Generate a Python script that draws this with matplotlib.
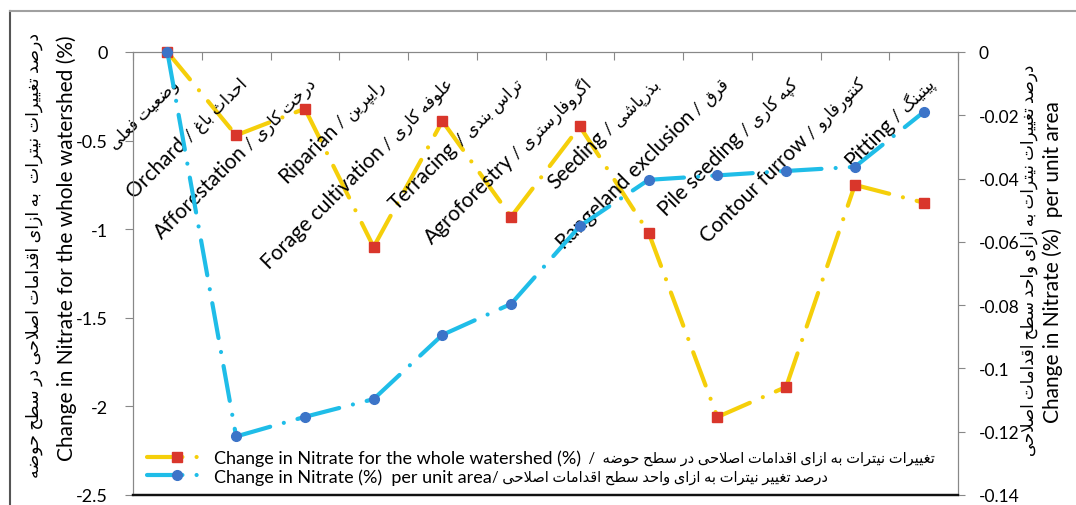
import matplotlib
matplotlib.use('Agg')
import matplotlib.pyplot as plt
import matplotlib.transforms as mtransforms
from matplotlib.lines import Line2D
from matplotlib.font_manager import FontProperties
import numpy as np

plt.rcParams['font.family'] = ['Lato', 'DejaVu Sans']
plt.rcParams['axes.unicode_minus'] = False

# ---- data ----
cat_en = ['', 'Orchard', 'Afforestation', 'Riparian', 'Forage cultivation', 'Terracing',
          'Agroforestry', 'Seeding', 'Rangeland exclusion', 'Pile seeding', 'Contour furrow', 'Pitting']
cat_fa = ['وضعیت فعلی', 'احداث باغ', 'درخت کاری', 'رایپرین', 'علوفه کاری', 'تراس بندی',
          'اگروفارستری', 'بذرپاشی', 'قرق', 'کپه کاری', 'کنتورفارو', 'پیتینگ']
whole_watershed = [0, -0.47, -0.32, -1.10, -0.39, -0.93, -0.42, -1.02, -2.06, -1.89, -0.75, -0.85]
per_unit_area = [0, -0.1215, -0.1153, -0.1097, -0.0894, -0.0796, -0.0550, -0.0404, -0.0390,
                 -0.0376, -0.0363, -0.0190]

left_ticks = [0, -0.5, -1, -1.5, -2, -2.5]
right_ticks = [0, -0.02, -0.04, -0.06, -0.08, -0.1, -0.12, -0.14]

# ---- minimal Persian shaping (presentation forms + visual order) ----
FORMS = {
    'ا': (0xFE8D, 0xFE8E, None, None), 'د': (0xFEA9, 0xFEAA, None, None),
    'ذ': (0xFEAB, 0xFEAC, None, None), 'ر': (0xFEAD, 0xFEAE, None, None),
    'ز': (0xFEAF, 0xFEB0, None, None), 'و': (0xFEED, 0xFEEE, None, None),
    'ژ': (0xFB8A, 0xFB8B, None, None),
    'ب': (0xFE8F, 0xFE90, 0xFE91, 0xFE92), 'ت': (0xFE95, 0xFE96, 0xFE97, 0xFE98),
    'ث': (0xFE99, 0xFE9A, 0xFE9B, 0xFE9C), 'ج': (0xFE9D, 0xFE9E, 0xFE9F, 0xFEA0),
    'ح': (0xFEA1, 0xFEA2, 0xFEA3, 0xFEA4), 'خ': (0xFEA5, 0xFEA6, 0xFEA7, 0xFEA8),
    'س': (0xFEB1, 0xFEB2, 0xFEB3, 0xFEB4), 'ش': (0xFEB5, 0xFEB6, 0xFEB7, 0xFEB8),
    'ص': (0xFEB9, 0xFEBA, 0xFEBB, 0xFEBC), 'ض': (0xFEBD, 0xFEBE, 0xFEBF, 0xFEC0),
    'ط': (0xFEC1, 0xFEC2, 0xFEC3, 0xFEC4), 'ع': (0xFEC9, 0xFECA, 0xFECB, 0xFECC),
    'غ': (0xFECD, 0xFECE, 0xFECF, 0xFED0), 'ف': (0xFED1, 0xFED2, 0xFED3, 0xFED4),
    'ق': (0xFED5, 0xFED6, 0xFED7, 0xFED8), 'ل': (0xFEDD, 0xFEDE, 0xFEDF, 0xFEE0),
    'م': (0xFEE1, 0xFEE2, 0xFEE3, 0xFEE4), 'ن': (0xFEE5, 0xFEE6, 0xFEE7, 0xFEE8),
    'ه': (0xFEE9, 0xFEEA, 0xFEEB, 0xFEEC),
    'پ': (0xFB56, 0xFB57, 0xFB58, 0xFB59), 'ک': (0xFB8E, 0xFB8F, 0xFB90, 0xFB91),
    'گ': (0xFB92, 0xFB93, 0xFB94, 0xFB95), 'ی': (0xFBFC, 0xFBFD, 0xFBFE, 0xFBFF),
}


def fa(text):
    out = []
    i = 0
    while i < len(text):
        ch = text[i]
        f = FORMS.get(ch)
        if f is None:
            out.append(ch)
            i += 1
            continue
        prev = text[i - 1] if i > 0 else ''
        nxt = text[i + 1] if i + 1 < len(text) else ''
        p = prev in FORMS and FORMS[prev][2] is not None
        if ch == 'ل' and nxt == 'ا':
            out.append(chr(0xFEFC if p else 0xFEFB))
            i += 2
            continue
        q = f[2] is not None and nxt in FORMS
        out.append(chr(f[{(0, 0): 0, (1, 0): 1, (0, 1): 2, (1, 1): 3}[(p, q)]]))
        i += 1
    return ''.join(reversed(out))


YELLOW = '#f5cf0a'
RED = '#d9362b'
CYAN = '#1fbde8'
BLUE = '#3c74c8'
GREY = '#888888'
dash = (0, (8.5, 3.4, 0.01, 3.4))

fig = plt.figure(figsize=(10.76, 5.06), dpi=100)
ax = fig.add_axes([133 / 1076, 10 / 506, 825 / 1076, 443 / 506])
ax2 = ax.twinx()

x = np.arange(len(cat_fa)) + 0.5

# segments drawn one by one so the dash pattern restarts at every point
for i in range(len(x) - 1):
    ax.plot(x[i:i + 2], whole_watershed[i:i + 2], color=YELLOW, lw=3, ls=dash,
            dash_capstyle='round', zorder=2)
    ax2.plot(x[i:i + 2], per_unit_area[i:i + 2], color=CYAN, lw=3, ls=dash,
             dash_capstyle='round', zorder=2)
ax.plot(x, whole_watershed, ls='none', marker='s', ms=6.5, color=RED, zorder=3, clip_on=False)
ax2.plot(x, per_unit_area, ls='none', marker='o', ms=7, color=BLUE, zorder=3, clip_on=False)

ax.set_xlim(0, len(cat_fa))
ax.set_ylim(-2.5, 0)
ax2.set_ylim(-0.14, 0)
ax.set_xticks(np.arange(0, len(cat_fa) + 1))
ax.xaxis.tick_top()
ax.tick_params(axis='x', direction='in', length=6, color=GREY, labeltop=False, labelbottom=False)
ax.set_yticks(left_ticks)
ax.set_yticklabels([f'{v:g}' for v in left_ticks])
ax.tick_params(axis='y', direction='out', length=6, color=GREY, pad=12, labelsize=13)
ax2.set_yticks(right_ticks)
ax2.set_yticklabels([f'{v:g}' for v in right_ticks])
ax2.tick_params(axis='y', direction='out', length=5, color=GREY, pad=10, labelsize=12.5)
for a in (ax, ax2):
    for side in ('left', 'top', 'right'):
        a.spines[side].set_color(GREY)
    a.spines['bottom'].set_color('#111111')
    a.spines['bottom'].set_linewidth(1.6)

# category labels: English, slash and Persian laid along one 45 degree baseline
renderer = fig.canvas.get_renderer()
ang = np.radians(45)
base = ax.get_xaxis_transform()
for xi, en, faw in zip(x, cat_en, cat_fa):
    parts = [(fa(faw), 12)]
    if en:
        parts += [(' / ', 13), (en, 15)]
    shift = 0.0
    for txt, size in parts:
        tr = base + mtransforms.ScaledTranslation((12 - shift * np.cos(ang)) / 100,
                                                  (-32 - shift * np.sin(ang)) / 100,
                                                  fig.dpi_scale_trans)
        ax.text(xi, 1.0, txt, fontsize=size, rotation=45, rotation_mode='anchor',
                ha='right', va='baseline', transform=tr, zorder=4)
        w, _, _ = renderer.get_text_width_height_descent(txt, FontProperties(size=size), ismath=False)
        shift += w

# axis titles
fig.text(34 / 1076, 1 - 255 / 506, fa('درصد تغییرات نیترات  به ازای اقدامات اصلاحی در سطح حوضه'),
         rotation=90, ha='center', va='center', fontsize=12.5)
fig.text(67 / 1076, 1 - 248 / 506, 'Change in Nitrate for the whole watershed (%)',
         rotation=90, ha='center', va='center', fontsize=15)
fig.text(1029 / 1076, 1 - 260 / 506, fa('درصد تغییرات نیترات به ازای واحد سطح اقدامات اصلاحی'),
         rotation=90, ha='center', va='center', fontsize=12)
fig.text(1053 / 1076, 1 - 262 / 506, 'Change in Nitrate (%)  per unit area',
         rotation=90, ha='center', va='center', fontsize=15)

# legend
handles = [Line2D([], [], color=YELLOW, lw=3, ls=dash, dash_capstyle='round',
                  marker='s', ms=6.5, mfc=RED, mec=RED),
           Line2D([], [], color=CYAN, lw=3, ls=dash, dash_capstyle='round',
                  marker='o', ms=7, mfc=BLUE, mec=BLUE)]
leg = ax2.legend(handles, ['Change in Nitrate for the whole watershed (%)',
                           'Change in Nitrate (%)  per unit area'],
                 loc='lower left', bbox_to_anchor=(0.012, 0.015), frameon=False,
                 fontsize=13, handlelength=3.4, handletextpad=0.35, borderpad=0.2,
                 borderaxespad=0, labelspacing=0.1)

# Persian halves of the legend entries, placed right after the English text
fig.canvas.draw()
legend_fa = ['  /  ' + fa('تغییرات نیترات به ازای اقدامات اصلاحی در سطح حوضه'),
             '/ ' + fa('درصد تغییر نیترات به ازای واحد سطح اقدامات اصلاحی')]
for t, s in zip(leg.get_texts(), legend_fa):
    bb = t.get_window_extent(fig.canvas.get_renderer())
    fig.text(bb.x1, 0.5 * (bb.y0 + bb.y1), s, transform=mtransforms.IdentityTransform(),
             ha='left', va='center', fontsize=10.5)

# outer chart frame
fig.add_artist(Line2D([10 / 1076, 10 / 1076], [0, 1 - 12 / 506], transform=fig.transFigure,
                      color='#555555', lw=1.5))
fig.add_artist(Line2D([10 / 1076, 1], [1 - 12 / 506, 1 - 12 / 506], transform=fig.transFigure,
                      color='#a0a0a0', lw=1.5))

fig.savefig('out.png', dpi=100)
